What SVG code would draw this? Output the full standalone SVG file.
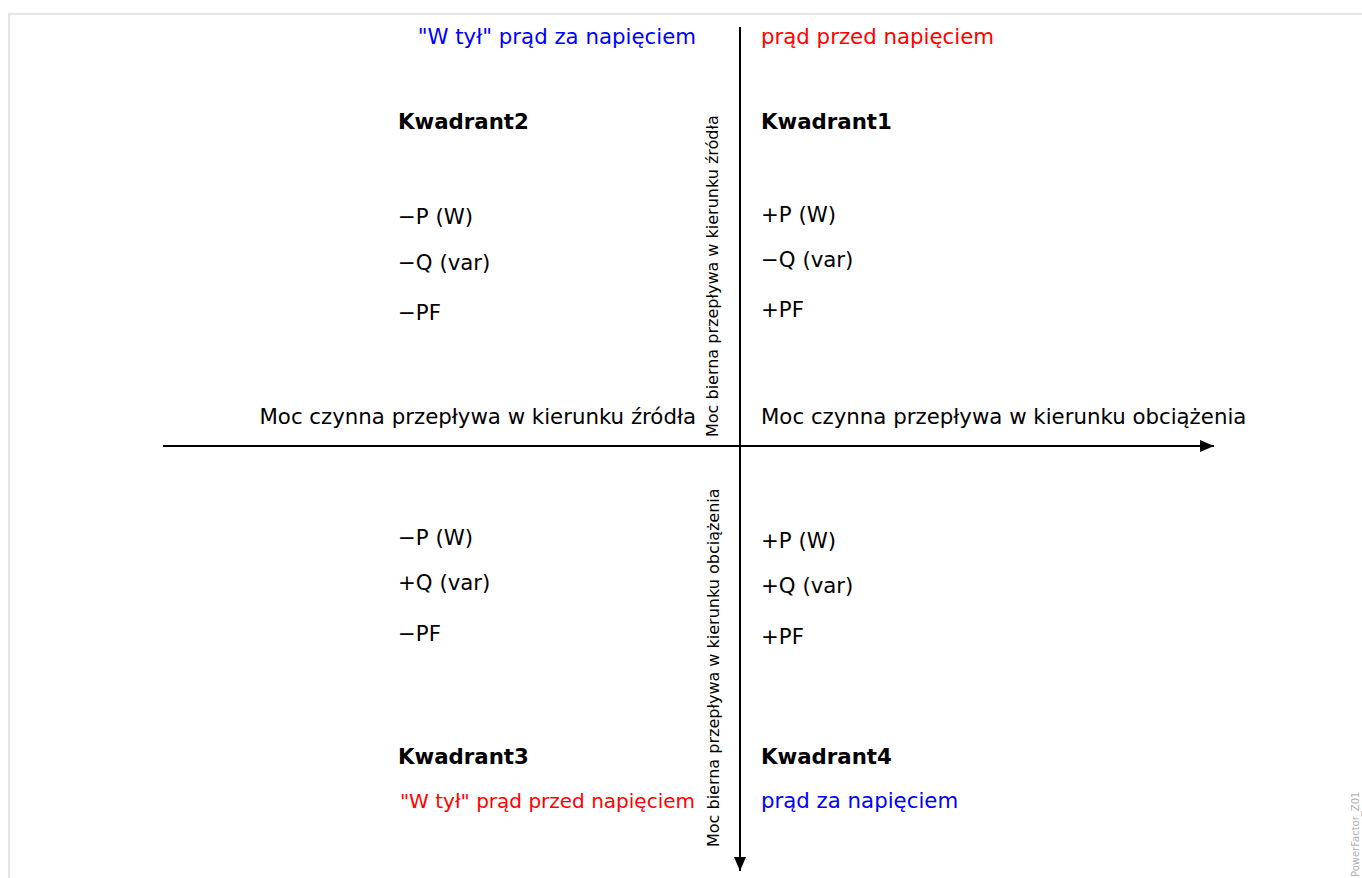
<svg xmlns="http://www.w3.org/2000/svg" width="1362" height="878" viewBox="0 0 1362 878">
<defs>
<style>
text{font-family:"DejaVu Sans","Liberation Sans",sans-serif;font-size:21.3px;fill:#000}
.b{font-weight:bold}
.blue{fill:#0000ff}
.red{fill:#ff0000}
.sm{font-size:20px}
.rot{font-size:16px}
.end{text-anchor:end}
.wm{font-size:10px;fill:#b0b0b0}
.ax{stroke:#000;stroke-width:2;fill:none}
</style>
<marker id="arr" markerWidth="14" markerHeight="12" refX="14" refY="6" orient="auto" markerUnits="userSpaceOnUse" viewBox="0 0 14 12">
<path d="M0,0 L14,6 L0,12 z" fill="#000"/>
</marker>
</defs>
<rect x="0" y="0" width="1362" height="878" fill="#fff"/>
<rect x="9" y="14" width="1370" height="880" fill="none" stroke="#e6e6e6" stroke-width="2"/>
<g id="connectors">
<line class="ax" x1="163" y1="446" x2="1214" y2="446" marker-end="url(#arr)"/>
<line class="ax" x1="740" y1="27" x2="740" y2="871" marker-end="url(#arr)"/>
</g>
<g id="top-labels">
<text class="blue end" x="696" y="44">"W tył" prąd za napięciem</text>
<text class="red" x="761" y="44">prąd przed napięciem</text>
</g>
<g id="q2">
<text class="b" x="398" y="129">Kwadrant2</text>
<text x="398" y="224">−P (W)</text>
<text x="398" y="270">−Q (var)</text>
<text x="398" y="320">−PF</text>
</g>
<g id="q1">
<text class="b" x="761" y="129">Kwadrant1</text>
<text x="761" y="222">+P (W)</text>
<text x="761" y="267">−Q (var)</text>
<text x="761" y="317">+PF</text>
</g>
<g id="axis-labels">
<text class="end" x="696" y="424">Moc czynna przepływa w kierunku źródła</text>
<text x="761" y="424">Moc czynna przepływa w kierunku obciążenia</text>
<text class="rot" transform="translate(718,437) rotate(-90)">Moc bierna przepływa w kierunku źródła</text>
<text class="rot" transform="translate(719,847) rotate(-90)">Moc bierna przepływa w kierunku obciążenia</text>
</g>
<g id="q3">
<text x="398" y="545">−P (W)</text>
<text x="398" y="590">+Q (var)</text>
<text x="398" y="641">−PF</text>
<text class="b" x="398" y="764">Kwadrant3</text>
</g>
<g id="q4">
<text x="761" y="548">+P (W)</text>
<text x="761" y="593">+Q (var)</text>
<text x="761" y="644">+PF</text>
<text class="b" x="761" y="764">Kwadrant4</text>
</g>
<g id="bottom-labels">
<text class="red end sm" x="695" y="808">"W tył" prąd przed napięciem</text>
<text class="blue" x="761" y="808">prąd za napięciem</text>
</g>
<text class="wm" transform="translate(1359,877) rotate(-90)">PowerFactor_Z01</text>
</svg>
